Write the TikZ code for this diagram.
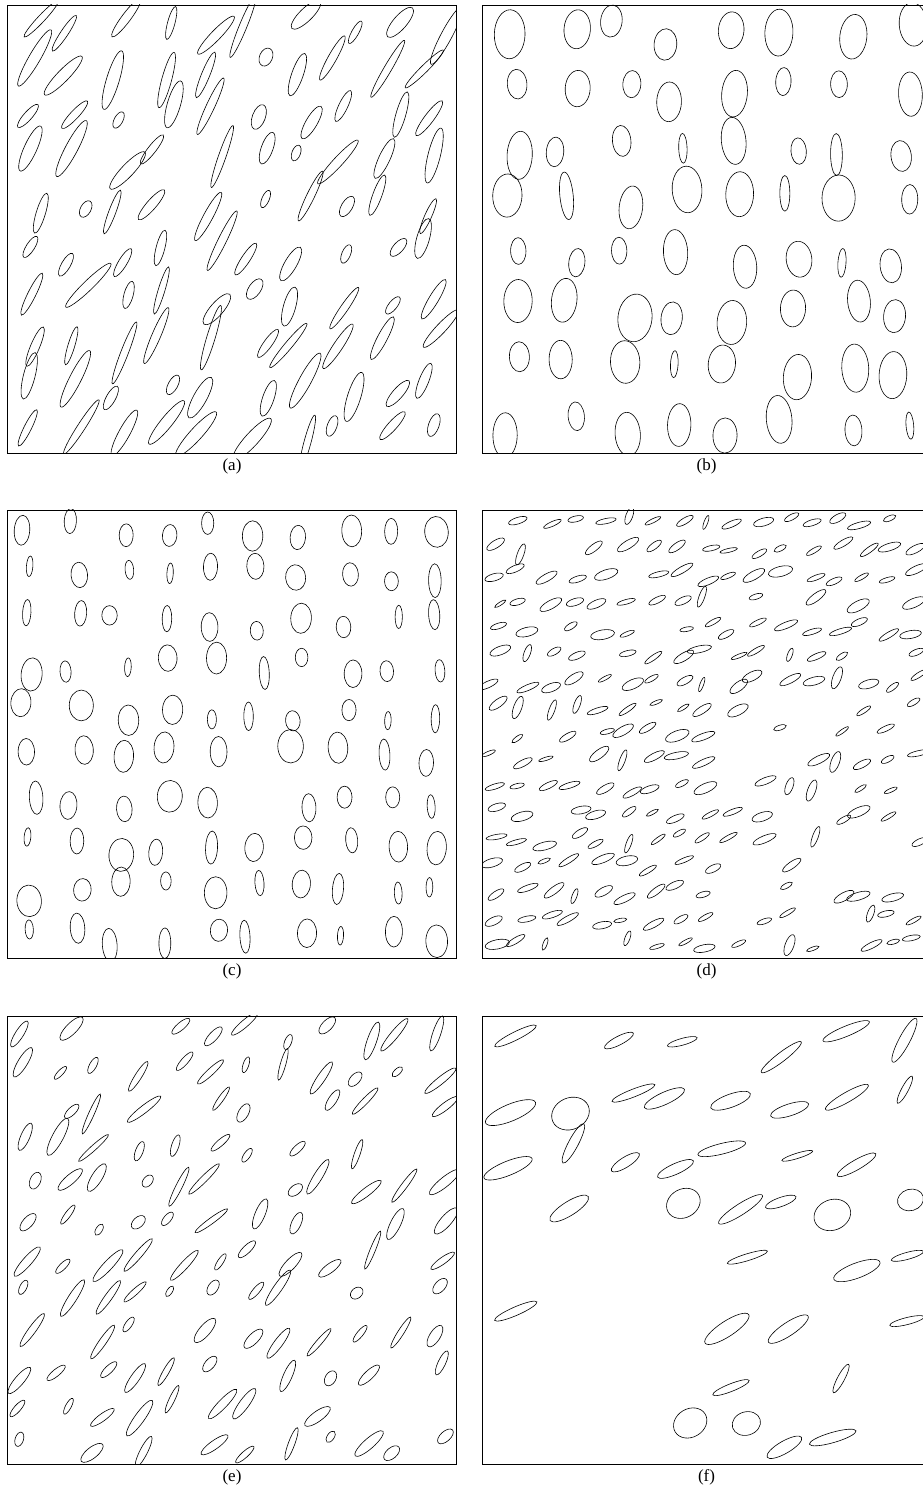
\documentclass[tikz,border=0pt]{standalone}
\usepackage{fontspec}
\setmainfont{Liberation Serif}
\usetikzlibrary{calc}

\tikzset{
  blob/.style={draw=black, line width=0.6pt},
  frame/.style={draw=black, line width=0.8pt},
  tag/.style={font=\fontsize{17}{19}\selectfont, inner sep=0pt}
}

\begin{document}
\begin{tikzpicture}[x=1pt, y=1pt]
  \useasboundingbox (0,0) rectangle (922,1506);
  \fill[white] (0,0) rectangle (922,1506);

  % panel corners (lower left)
  \coordinate (pa) at (7.5,1053);
  \coordinate (pb) at (482,1053);
  \coordinate (pc) at (7.5,548);
  \coordinate (pd) at (482,548);
  \coordinate (pe) at (7.5,42);
  \coordinate (pf) at (482,42);

  % (a) long thin tilted grains
  \begin{scope}[shift={(pa)}]
    \clip (0,0) rectangle (449,448);
    \pgfmathsetseed{7}
    \foreach \i in {0,...,9}{
      \foreach \j in {0,...,9}{
        \pgfmathsetmacro\cx{22+45*\i+14*rand}
        \pgfmathsetmacro\cy{22+45*\j+14*rand}
        \pgfmathsetmacro\ang{60+16*rand}
        \pgfmathsetmacro\ra{8+26*rnd}
        \pgfmathsetmacro\rb{min(0.75*\ra,3.3+3.5*rnd)}
        \draw[blob, shift={(\cx,\cy)}, rotate=\ang] (0,0) ellipse [x radius=\ra, y radius=\rb];
      }
    }
  \end{scope}
  \draw[frame] (pa) rectangle ++(449,448);
  \node[tag] (la) at ($(pa)+(224.5,-13)$) {(a)};

  % (b) large upright grains
  \begin{scope}[shift={(pb)}]
    \clip (0,0) rectangle (449,448);
    \pgfmathsetseed{21}
    \foreach \i in {0,...,7}{
      \foreach \j in {0,...,7}{
        \pgfmathsetmacro\cx{28+56*\i+13*rand}
        \pgfmathsetmacro\cy{28+56*\j+13*rand}
        \pgfmathsetmacro\ang{90+7*rand}
        \pgfmathsetmacro\ra{13+12*rnd}
        \pgfmathsetmacro\rb{\ra*(0.62+0.1*rand)}
        \pgfmathtruncatemacro\thin{rnd<0.18 ? 1 : 0}
        \ifnum\thin=1
          \draw[blob, shift={(\cx,\cy)}, rotate=\ang] (0,0) ellipse [x radius=\ra, y radius=0.28*\ra];
        \else
          \draw[blob, shift={(\cx,\cy)}, rotate=\ang] (0,0) ellipse [x radius=\ra, y radius=\rb];
        \fi
      }
    }
  \end{scope}
  \draw[frame] (pb) rectangle ++(449,448);
  \node[tag] (lb) at ($(pb)+(224.5,-13)$) {(b)};

  % (c) small upright grains
  \begin{scope}[shift={(pc)}]
    \clip (0,0) rectangle (449,448);
    \pgfmathsetseed{33}
    \foreach \i in {0,...,9}{
      \foreach \j in {0,...,9}{
        \pgfmathsetmacro\cx{22+45*\i+10*rand}
        \pgfmathsetmacro\cy{22+45*\j+10*rand}
        \pgfmathsetmacro\ang{90+5*rand}
        \pgfmathsetmacro\ra{9+8*rnd}
        \pgfmathsetmacro\rb{\ra*(0.55+0.25*rand)}
        \pgfmathtruncatemacro\keep{rnd>0.08 ? 1 : 0}
        \ifnum\keep=1
          \draw[blob, shift={(\cx,\cy)}, rotate=\ang] (0,0) ellipse [x radius=\ra, y radius=\rb];
        \fi
      }
    }
  \end{scope}
  \draw[frame] (pc) rectangle ++(449,448);
  \node[tag] (lc) at ($(pc)+(224.5,-13)$) {(c)};

  % (d) many small flat grains
  \begin{scope}[shift={(pd)}]
    \clip (0,0) rectangle (449,448);
    \pgfmathsetseed{45}
    \foreach \i in {0,...,16}{
      \foreach \j in {0,...,16}{
        \pgfmathsetmacro\cx{13+26.4*\i+7*rand}
        \pgfmathsetmacro\cy{13+26.4*\j+7*rand}
        \pgfmathsetmacro\ang{24+14*rand}
        \pgfmathsetmacro\ra{6.5+6*rnd}
        \pgfmathsetmacro\rb{\ra*(0.32+0.1*rand)}
        \pgfmathtruncatemacro\keep{(\cx>240 && \cy<260) ? (rnd>0.5 ? 1 : 0) : (rnd>0.12 ? 1 : 0)}
        \pgfmathtruncatemacro\steep{rnd<0.12 ? 1 : 0}
        \ifnum\keep=1
          \ifnum\steep=1
            \draw[blob, shift={(\cx,\cy)}, rotate=70] (0,0) ellipse [x radius=\ra, y radius=\rb];
          \else
            \draw[blob, shift={(\cx,\cy)}, rotate=\ang] (0,0) ellipse [x radius=\ra, y radius=\rb];
          \fi
        \fi
      }
    }
  \end{scope}
  \draw[frame] (pd) rectangle ++(449,448);
  \node[tag] (ld) at ($(pd)+(224.5,-13)$) {(d)};

  % (e) mixed grains
  \begin{scope}[shift={(pe)}]
    \clip (0,0) rectangle (449,448);
    \pgfmathsetseed{58}
    \foreach \i in {0,...,11}{
      \foreach \j in {0,...,11}{
        \pgfmathsetmacro\cx{18+37.5*\i+10*rand}
        \pgfmathsetmacro\cy{18+37.5*\j+10*rand}
        \pgfmathsetmacro\ang{55+20*rand}
        \pgfmathsetmacro\ra{6+16*rnd}
        \pgfmathsetmacro\rb{min(0.75*\ra,2.6+3*rnd)}
        \pgfmathtruncatemacro\keep{rnd>0.15 ? 1 : 0}
        \ifnum\keep=1
          \draw[blob, shift={(\cx,\cy)}, rotate=\ang] (0,0) ellipse [x radius=\ra, y radius=\rb];
        \fi
      }
    }
  \end{scope}
  \draw[frame] (pe) rectangle ++(449,448);
  \node[tag] (le) at ($(pe)+(224.5,-13)$) {(e)};

  % (f) sparse large grains
  \begin{scope}[shift={(pf)}]
    \clip (0,0) rectangle (449,448);
    \pgfmathsetseed{64}
    \foreach \i in {0,...,7}{
      \foreach \j in {0,...,7}{
        \pgfmathsetmacro\cx{28+56*\i+14*rand}
        \pgfmathsetmacro\cy{28+56*\j+14*rand}
        \pgfmathsetmacro\ang{26+12*rand}
        \pgfmathsetmacro\ra{15+12*rnd}
        \pgfmathsetmacro\rb{\ra*(0.24+0.08*rand)}
        \pgfmathtruncatemacro\keep{(\cx<220 && \cy<220) ? (rnd>0.8 ? 1 : 0) : (rnd>0.22 ? 1 : 0)}
        \pgfmathtruncatemacro\kind{rnd<0.15 ? 1 : (rnd<0.15 ? 2 : 0)}
        \ifnum\keep=1
          \ifcase\kind
            \draw[blob, shift={(\cx,\cy)}, rotate=\ang] (0,0) ellipse [x radius=\ra, y radius=\rb];
          \or
            \draw[blob, shift={(\cx,\cy)}, rotate=62] (0,0) ellipse [x radius=\ra, y radius=0.22*\ra];
          \or
            \draw[blob, shift={(\cx,\cy)}, rotate=\ang] (0,0) ellipse [x radius=0.8*\ra, y radius=0.65*\ra];
          \fi
        \fi
      }
    }
  \end{scope}
  \draw[frame] (pf) rectangle ++(449,448);
  \node[tag] (lf) at ($(pf)+(224.5,-13)$) {(f)};
\end{tikzpicture}
\end{document}
